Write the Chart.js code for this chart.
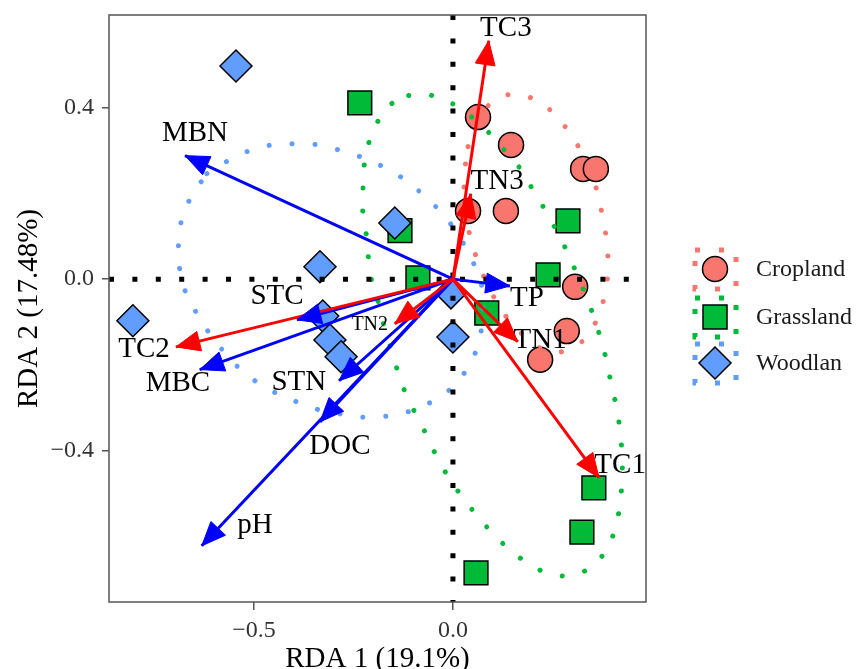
<!DOCTYPE html>
<html><head><meta charset="utf-8">
<script src="https://cdn.jsdelivr.net/npm/chart.js@4"></script>
<style>html,body{margin:0;padding:0;background:#fff;}canvas{display:block;}</style>
</head><body>
<canvas id="c" width="856" height="669"></canvas>
<script>
// ---------- data ----------
const groups = ['Cropland', 'Grassland', 'Woodlan'];

const croplandX = [0.063, 0.146, 0.327, 0.359, 0.038, 0.133, 0.307, 0.286, 0.219];
const croplandY = [0.378, 0.313, 0.257, 0.257, 0.159, 0.159, -0.018, -0.121, -0.188];
const grasslandX = [-0.234, -0.133, -0.088, 0.289, 0.239, 0.085, 0.354, 0.324, 0.058];
const grasslandY = [0.411, 0.113, 0.003, 0.136, 0.010, -0.079, -0.487, -0.590, -0.685];
const woodlandX = [-0.545, -0.146, -0.334, -0.804, -0.005, 0.000, -0.327, -0.309, -0.281];
const woodlandY = [0.497, 0.131, 0.029, -0.097, -0.032, -0.135, -0.086, -0.142, -0.181];

// ellipse outlines (traced)
const croplandEllX = [0.038, 0.058, 0.088, 0.138, 0.196, 0.246, 0.284, 0.317, 0.342, 0.362, 0.374, 0.387, 0.389, 0.384, 0.367, 0.342, 0.299, 0.244, 0.188, 0.148, 0.113, 0.085, 0.063, 0.045, 0.033, 0.028, 0.030];
const croplandEllY = [0.309, 0.360, 0.404, 0.430, 0.423, 0.393, 0.353, 0.306, 0.257, 0.206, 0.155, 0.082, 0.029, -0.027, -0.079, -0.128, -0.160, -0.170, -0.139, -0.104, -0.058, -0.009, 0.040, 0.094, 0.148, 0.201, 0.255];
const grasslandEllX = [-0.111, -0.050, 0.003, 0.050, 0.093, 0.133, 0.171, 0.201, 0.231, 0.259, 0.286, 0.309, 0.332, 0.352, 0.372, 0.387, 0.399, 0.412, 0.420, 0.425, 0.425, 0.420, 0.410, 0.389, 0.354, 0.302, 0.244, 0.191, 0.143, 0.101, 0.063, 0.025, -0.008, -0.038, -0.063, -0.090, -0.116, -0.136, -0.153, -0.171, -0.183, -0.201, -0.211, -0.216, -0.226, -0.226, -0.224, -0.214, -0.193, -0.161];
const grasslandEllY = [0.428, 0.428, 0.407, 0.376, 0.339, 0.297, 0.255, 0.208, 0.162, 0.115, 0.066, 0.017, -0.034, -0.083, -0.142, -0.195, -0.251, -0.303, -0.358, -0.412, -0.466, -0.519, -0.573, -0.624, -0.666, -0.690, -0.687, -0.664, -0.631, -0.594, -0.554, -0.510, -0.466, -0.419, -0.370, -0.321, -0.272, -0.223, -0.170, -0.118, -0.067, -0.016, 0.038, 0.094, 0.148, 0.201, 0.255, 0.309, 0.360, 0.404];
const woodlandEllX = [-0.618, -0.565, -0.513, -0.455, -0.397, -0.337, -0.279, -0.226, -0.171, -0.121, -0.075, -0.033, 0.005, 0.035, 0.060, 0.073, 0.075, 0.070, 0.053, 0.023, -0.015, -0.068, -0.123, -0.181, -0.239, -0.296, -0.354, -0.410, -0.465, -0.513, -0.555, -0.593, -0.628, -0.658, -0.681, -0.688, -0.688, -0.676, -0.651];
const woodlandEllY = [0.246, 0.276, 0.299, 0.313, 0.316, 0.313, 0.299, 0.283, 0.260, 0.232, 0.197, 0.159, 0.115, 0.068, 0.019, -0.020, -0.072, -0.125, -0.179, -0.226, -0.263, -0.293, -0.312, -0.321, -0.321, -0.312, -0.300, -0.279, -0.256, -0.226, -0.191, -0.149, -0.104, -0.055, -0.006, 0.047, 0.101, 0.155, 0.201];

// response (red) and explanatory (blue) arrows
const redVars = ['TC1', 'TC2', 'TC3', 'TN1', 'TN2', 'TN3'];
const redX = [0.367, -0.696, 0.090, 0.163, -0.146, 0.045];
const redY = [-0.463, -0.158, 0.556, -0.146, -0.104, 0.199];
const redLabelX = [0.420, -0.776, 0.133, 0.219, -0.209, 0.111];
const redLabelY = [-0.435, -0.163, 0.584, -0.142, -0.107, 0.229];
const blueVars = ['MBN', 'STC', 'MBC', 'STN', 'DOC', 'pH', 'TP'];
const blueX = [-0.673, -0.392, -0.636, -0.286, -0.334, -0.631, 0.143];
const blueY = [0.288, -0.095, -0.211, -0.237, -0.333, -0.622, -0.016];
const blueLabelX = [-0.648, -0.442, -0.691, -0.387, -0.284, -0.497, 0.186];
const blueLabelY = [0.341, -0.041, -0.244, -0.241, -0.389, -0.575, -0.044];

// axes
const xRange = [-0.864, 0.485];
const yRange = [-0.753, 0.616];
const xTicks = [-0.5, 0.0];
const yTicks = [-0.4, 0.0, 0.4];
const xTitle = 'RDA 1 (19.1%)';
const yTitle = 'RDA 2 (17.48%)';

// ---------- styling ----------
const SERIF = '"Liberation Serif", "Times New Roman", serif';
const groupColors = ['#F8766D', '#00BA38', '#619CFF'];
const groupStyles = ['circle', 'rect', 'rectRot'];
const groupRadius = [12.5, 16.8, 16];
const RED = '#FF0000', BLUE = '#0000FF';
const AREA = {left: 109, top: 15, right: 646, bottom: 602};

const zip = (xs, ys) => xs.map((x, i) => ({x, y: ys[i]}));
const closed = (xs, ys) => { const p = zip(xs, ys); p.push({...p[0]}); return p; };

const datasets = [];
// arrows shafts (top layer)
redVars.forEach((v, i) => datasets.push({
  label: v, data: [{x: 0, y: 0}, {x: redX[i], y: redY[i]}], showLine: true,
  borderColor: RED, borderWidth: 3, pointRadius: 0, order: 0, _arrow: RED
}));
blueVars.forEach((v, i) => datasets.push({
  label: v, data: [{x: 0, y: 0}, {x: blueX[i], y: blueY[i]}], showLine: true,
  borderColor: BLUE, borderWidth: 3, pointRadius: 0, order: 0, _arrow: BLUE
}));
// zero reference lines
datasets.push({label: 'h0', data: [{x: xRange[0], y: 0}, {x: xRange[1], y: 0}], showLine: true,
  borderColor: '#000', borderWidth: 5, borderDash: [5, 18.4], borderCapStyle: 'butt', pointRadius: 0, order: 1});
datasets.push({label: 'v0', data: [{x: 0, y: yRange[1]}, {x: 0, y: yRange[0]}], showLine: true,
  borderColor: '#000', borderWidth: 5, borderDash: [5, 18.4], borderCapStyle: 'butt', pointRadius: 0, order: 1});
// ellipses
[[croplandEllX, croplandEllY], [grasslandEllX, grasslandEllY], [woodlandEllX, woodlandEllY]].forEach((e, g) => datasets.push({
  label: groups[g] + ' ellipse', data: closed(e[0], e[1]), showLine: true, tension: 0.4,
  borderColor: groupColors[g], borderWidth: 5, borderDash: [0.01, 23], borderCapStyle: 'round',
  pointRadius: 0, order: 2
}));
// points
[[croplandX, croplandY], [grasslandX, grasslandY], [woodlandX, woodlandY]].forEach((p, g) => datasets.push({
  label: groups[g], data: zip(p[0], p[1]), showLine: false,
  pointStyle: groupStyles[g], pointRadius: groupRadius[g], pointBackgroundColor: groupColors[g],
  pointBorderColor: '#000', pointBorderWidth: 1.5, order: 5 - g
}));

const fmt = v => (v < 0 ? '\u2212' : '') + Math.abs(v).toFixed(1);

const overlay = {
  id: 'overlay',
  afterDatasetsDraw(chart) {
    const {ctx, chartArea: a, scales: {x, y}} = chart;
    ctx.save();
    // arrow heads
    chart.data.datasets.forEach(ds => {
      if (!ds._arrow) return;
      const x0 = x.getPixelForValue(0), y0 = y.getPixelForValue(0);
      const x1 = x.getPixelForValue(ds.data[1].x), y1 = y.getPixelForValue(ds.data[1].y);
      const ang = Math.atan2(y1 - y0, x1 - x0);
      const L = 24, W = 10;
      const bx = x1 - L * Math.cos(ang), by = y1 - L * Math.sin(ang);
      ctx.beginPath();
      ctx.moveTo(x1, y1);
      ctx.lineTo(bx + W * Math.sin(ang), by - W * Math.cos(ang));
      ctx.lineTo(bx - W * Math.sin(ang), by + W * Math.cos(ang));
      ctx.closePath();
      ctx.fillStyle = ds._arrow; ctx.fill();
      ctx.strokeStyle = ds._arrow; ctx.lineWidth = 1; ctx.stroke();
    });
    // labels
    ctx.fillStyle = '#000';
    ctx.textAlign = 'center'; ctx.textBaseline = 'middle';
    const lab = (t, lx, ly) => {
      ctx.font = (t === 'TN2' ? '20px ' : '29px ') + SERIF;
      ctx.fillText(t, x.getPixelForValue(lx), y.getPixelForValue(ly));
    };
    redVars.forEach((t, i) => lab(t, redLabelX[i], redLabelY[i]));
    blueVars.forEach((t, i) => lab(t, blueLabelX[i], blueLabelY[i]));
    // panel border
    ctx.strokeStyle = '#555'; ctx.lineWidth = 1.5;
    ctx.strokeRect(a.left, a.top, a.right - a.left, a.bottom - a.top);
    ctx.restore();
  },
  afterDraw(chart) {
    const {ctx, chartArea: a} = chart;
    ctx.save();
    ctx.fillStyle = '#000';
    ctx.font = '29px ' + SERIF;
    ctx.textAlign = 'center'; ctx.textBaseline = 'alphabetic';
    ctx.fillText(xTitle, (a.left + a.right) / 2, 667);
    ctx.save();
    ctx.translate(37, (a.top + a.bottom) / 2);
    ctx.rotate(-Math.PI / 2);
    ctx.fillText(yTitle, 0, 0);
    ctx.restore();
    // legend
    const cx = 715, cys = [269, 317, 363];
    groups.forEach((gname, g) => {
      const cy = cys[g];
      ctx.save();
      ctx.strokeStyle = groupColors[g]; ctx.lineWidth = 5;
      ctx.setLineDash([5, 19]); ctx.lineCap = 'butt';
      ctx.beginPath();
      ctx.moveTo(cx - 20, cy - 19);
      ctx.lineTo(cx + 21, cy - 19); ctx.lineTo(cx + 21, cy + 20);
      ctx.lineTo(cx - 20, cy + 20); ctx.closePath();
      ctx.stroke();
      ctx.restore();
      ctx.fillStyle = groupColors[g]; ctx.strokeStyle = '#000'; ctx.lineWidth = 1.5;
      ctx.beginPath();
      if (g === 0) ctx.arc(cx, cy, 12.5, 0, Math.PI * 2);
      else if (g === 1) ctx.rect(cx - 12, cy - 12, 24, 24);
      else { ctx.moveTo(cx, cy - 16); ctx.lineTo(cx + 16, cy); ctx.lineTo(cx, cy + 16); ctx.lineTo(cx - 16, cy); ctx.closePath(); }
      ctx.fill(); ctx.stroke();
      ctx.fillStyle = '#1a1a1a';
      ctx.font = '24px ' + SERIF; ctx.textAlign = 'left'; ctx.textBaseline = 'middle';
      ctx.fillText(gname, 756, cy + 1);
    });
    ctx.restore();
  }
};

new Chart(document.getElementById('c'), {
  type: 'scatter',
  data: {datasets},
  options: {
    responsive: false, animation: false, devicePixelRatio: 1,
    layout: {autoPadding: false, padding: {top: AREA.top, right: 856 - AREA.right, left: 0, bottom: 0}},
    plugins: {legend: {display: false}, tooltip: {enabled: false}},
    scales: {
      x: {
        type: 'linear', min: xRange[0], max: xRange[1],
        afterBuildTicks: s => { s.ticks = xTicks.map(v => ({value: v})); },
        afterFit: s => { s.height = 669 - AREA.bottom; s.paddingLeft = 0; s.paddingRight = 0; s.paddingTop = 0; s.paddingBottom = 0; },
        ticks: {callback: v => fmt(v), font: {family: SERIF, size: 24}, color: '#333', padding: 6, maxRotation: 0, autoSkip: false},
        grid: {display: true, drawOnChartArea: false, drawTicks: true, tickLength: 8, color: '#555', lineWidth: 1.5},
        border: {display: false}
      },
      y: {
        type: 'linear', min: yRange[0], max: yRange[1],
        afterBuildTicks: s => { s.ticks = yTicks.map(v => ({value: v})); },
        afterFit: s => { s.width = AREA.left; s.paddingTop = 0; s.paddingBottom = 0; s.paddingLeft = 0; s.paddingRight = 0; },
        ticks: {callback: v => fmt(v), font: {family: SERIF, size: 24}, color: '#333', padding: 8, autoSkip: false},
        grid: {display: true, drawOnChartArea: false, drawTicks: true, tickLength: 7, color: '#555', lineWidth: 1.5},
        border: {display: false}
      }
    }
  },
  plugins: [overlay]
});
</script>
</body></html>
